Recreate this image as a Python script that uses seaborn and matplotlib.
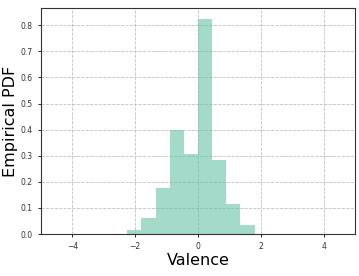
import numpy as np
import pandas as pd
import matplotlib
matplotlib.use('Agg')
import matplotlib.pyplot as plt
import seaborn as sns

# bordas dos bins e densidade de cada bin
bin_edges = [-2.25, -1.8, -1.35, -0.9, -0.45, 0.0, 0.45, 0.9, 1.35, 1.8, 2.25]
densidade = [0.016, 0.061, 0.178, 0.399, 0.307, 0.822, 0.284, 0.115, 0.036, 0.002]

centros = [(a + b) / 2 for a, b in zip(bin_edges[:-1], bin_edges[1:])]
df = pd.DataFrame({'Valence': centros, 'pdf': densidade})

fig = plt.figure(figsize=(3.59, 2.76), dpi=100)
ax = fig.add_axes([0.114, 0.152, 0.875, 0.819])

sns.histplot(data=df, x='Valence', weights='pdf', bins=bin_edges, stat='count',
             color='#66c2a5', alpha=0.6, linewidth=0, ax=ax)

ax.set_xlim(-5, 5)
ax.set_ylim(0, 0.866)
ax.set_xticks([-4, -2, 0, 2, 4])
ax.set_yticks(np.arange(0, 0.81, 0.1))
ax.grid(True, linestyle='--', color='#c0c0c0', linewidth=0.6)
ax.set_axisbelow(True)
ax.tick_params(labelsize=5.5, length=2.5, width=0.6, labelcolor='#333333')
for s in ax.spines.values():
    s.set_linewidth(0.8)
    s.set_color('#333333')

ax.set_xlabel('Valence', fontsize=11.5, labelpad=1)
ax.set_ylabel('Empirical PDF', fontsize=11.5, labelpad=2)

plt.savefig('out.png', dpi=100)
plt.close()
